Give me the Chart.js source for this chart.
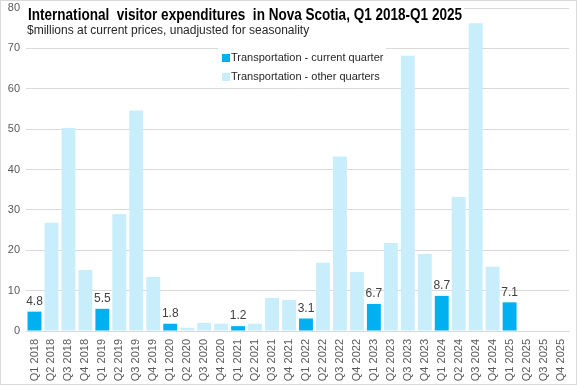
<!DOCTYPE html>
<html>
<head>
<meta charset="utf-8">
<script src="https://cdn.jsdelivr.net/npm/chart.js@4.4.1/dist/chart.umd.min.js"></script>
<style>
  html, body { margin: 0; padding: 0; background: #fff; }
  #wrap { width: 577px; height: 385px; position: relative; }
</style>
</head>
<body>
<div id="wrap"><canvas id="chart" width="577" height="385"></canvas></div>
<script>
const quarters = [
  'Q1 2018', 'Q2 2018', 'Q3 2018', 'Q4 2018',
  'Q1 2019', 'Q2 2019', 'Q3 2019', 'Q4 2019',
  'Q1 2020', 'Q2 2020', 'Q3 2020', 'Q4 2020',
  'Q1 2021', 'Q2 2021', 'Q3 2021', 'Q4 2021',
  'Q1 2022', 'Q2 2022', 'Q3 2022', 'Q4 2022',
  'Q1 2023', 'Q2 2023', 'Q3 2023', 'Q4 2023',
  'Q1 2024', 'Q2 2024', 'Q3 2024', 'Q4 2024',
  'Q1 2025', 'Q2 2025', 'Q3 2025', 'Q4 2025'
];

// Q1 bars (the "current quarter")
const currentQuarter = [
  4.8, null, null, null,
  5.5, null, null, null,
  1.8, null, null, null,
  1.2, null, null, null,
  3.1, null, null, null,
  6.7, null, null, null,
  8.7, null, null, null,
  7.1, null, null, null
];

const otherQuarters = [
  null, 26.8, 50.3, 15.1,
  null, 29.0, 54.6, 13.4,
  null, 0.8, 2.0, 1.8,
  null, 1.8, 8.2, 7.7,
  null, 16.9, 43.2, 14.6,
  null, 21.8, 68.2, 19.1,
  null, 33.2, 76.2, 15.9,
  null, null, null, null
];

const yTicks = [0, 10, 20, 30, 40, 50, 60, 70, 80];

const titleText = 'International  visitor expenditures  in Nova Scotia, Q1 2018-Q1 2025';
const subtitleText = '$millions at current prices, unadjusted for seasonality';

const darkBlue = '#00B0F0';
const lightBlue = '#C8EEFB';
const fontName = '"Liberation Sans", Arial, sans-serif';

// title, legend, bar labels and frame
const overlay = {
  id: 'overlay',
  afterDatasetsDraw(chart) {
    const ctx = chart.ctx;
    ctx.save();

    // labels on top of the Q1 bars
    const meta = chart.getDatasetMeta(0);
    ctx.font = '12px ' + fontName;
    ctx.fillStyle = '#404040';
    ctx.textAlign = 'center';
    ctx.textBaseline = 'bottom';
    meta.data.forEach((bar, i) => {
      const v = currentQuarter[i];
      if (v == null) return;
      ctx.fillText(v.toFixed(1), bar.x, bar.y - 4);
    });

    // title block (white box hides the gridlines behind it)
    ctx.fillStyle = '#fff';
    ctx.fillRect(26, 3, 438, 36);
    ctx.textAlign = 'left';
    ctx.textBaseline = 'alphabetic';
    ctx.fillStyle = '#000';
    ctx.font = 'bold 16px ' + fontName;
    const w = ctx.measureText(titleText).width;
    ctx.save();
    ctx.translate(28, 20);
    ctx.scale(434 / w, 1);
    ctx.fillText(titleText, 0, 0);
    ctx.restore();
    ctx.fillStyle = '#262626';
    ctx.font = '12px ' + fontName;
    ctx.fillText(subtitleText, 27, 34);

    // legend
    ctx.fillStyle = '#fff';
    ctx.fillRect(218, 47, 168, 40);
    chart.data.datasets.forEach((ds, i) => {
      const y = 58 + i * 19;
      ctx.fillStyle = ds.backgroundColor;
      ctx.fillRect(222, y - 4, 8, 8);
      ctx.fillStyle = '#262626';
      ctx.font = '11px ' + fontName;
      ctx.textBaseline = 'middle';
      ctx.fillText(ds.label, 231, y);
    });

    // outer frame
    ctx.strokeStyle = '#D9D9D9';
    ctx.lineWidth = 1;
    ctx.strokeRect(0.5, 0.5, chart.width - 1, chart.height - 1);
    ctx.restore();
  }
};

new Chart(document.getElementById('chart'), {
  type: 'bar',
  data: {
    labels: quarters,
    datasets: [
      {
        label: 'Transportation - current quarter',
        data: currentQuarter,
        backgroundColor: darkBlue,
        barPercentage: 0.82,
        categoryPercentage: 1
      },
      {
        label: 'Transportation - other quarters',
        data: otherQuarters,
        backgroundColor: lightBlue,
        barPercentage: 0.82,
        categoryPercentage: 1
      }
    ]
  },
  options: {
    responsive: false,
    animation: false,
    layout: { padding: { top: 8, right: 8, bottom: 0, left: 0 } },
    plugins: {
      legend: { display: false },
      tooltip: { enabled: false }
    },
    scales: {
      x: {
        stacked: true,
        grid: { display: false },
        border: { color: '#D9D9D9' },
        afterFit(scale) { scale.height = 54; },
        ticks: {
          color: '#595959',
          font: { family: fontName, size: 11 },
          minRotation: 90,
          maxRotation: 90,
          autoSkip: false,
          padding: 0
        }
      },
      y: {
        stacked: true,
        min: 0,
        max: 80,
        afterBuildTicks(scale) {
          scale.ticks = yTicks.map(v => ({ value: v }));
        },
        afterFit(scale) {
          scale.width = 26;
          scale.paddingTop = 0;
          scale.paddingBottom = 0;
        },
        grid: { color: '#D9D9D9', drawTicks: false },
        border: { display: false },
        ticks: {
          color: '#595959',
          font: { family: fontName, size: 11 },
          padding: 6
        }
      }
    }
  },
  plugins: [overlay]
});
</script>
</body>
</html>
